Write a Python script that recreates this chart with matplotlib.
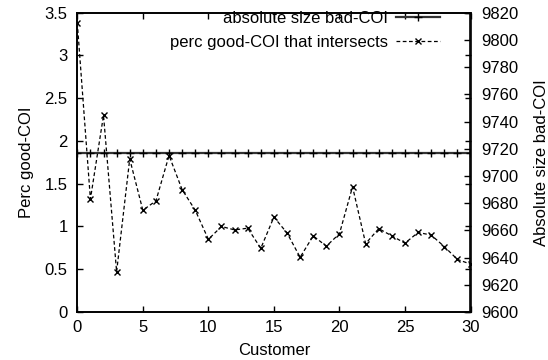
import matplotlib
matplotlib.use("Agg")
import matplotlib.pyplot as plt

plt.rcParams['font.family'] = ['Liberation Sans', 'DejaVu Sans']
plt.rcParams['font.size'] = 12

customers = list(range(31))
perc_good = [3.38, 1.32, 2.30, 0.47, 1.79, 1.19, 1.30, 1.83, 1.43, 1.19,
             0.85, 1.00, 0.96, 0.98, 0.745, 1.11, 0.925, 0.64, 0.89, 0.77,
             0.915, 1.465, 0.80, 0.975, 0.89, 0.805, 0.93, 0.90, 0.765, 0.615,
             0.56]
abs_bad = [9717, 9717, 9717, 9717, 9717, 9717, 9717, 9717, 9717, 9717,
           9717, 9717, 9717, 9717, 9717, 9717, 9717, 9717, 9717, 9717,
           9717, 9717, 9717, 9717, 9717, 9717, 9717, 9717, 9717, 9717,
           9717]

left_ticks = [0, 0.5, 1, 1.5, 2, 2.5, 3, 3.5]
left_ticklabels = ['0', '0.5', '1', '1.5', '2', '2.5', '3', '3.5']
right_ticks = list(range(9600, 9821, 20))
x_ticks = [0, 5, 10, 15, 20, 25, 30]

fig = plt.figure(figsize=(5.48, 3.6), dpi=100)
ax = fig.add_axes([77.3/548, 1-312/360, (470.5-77.3)/548, (312-12.7)/360])
ax2 = ax.twinx()

l1, = ax2.plot(customers, abs_bad, color='#333333', lw=1.6, ls='-',
               marker='+', ms=6, mew=1.0, mec='black')
l2, = ax.plot(customers, perc_good, color='black', lw=0.9, ls=(0, (3, 2)),
              marker='x', ms=5, mew=1.0)
ax.set_zorder(ax2.get_zorder() + 1)
ax.patch.set_visible(False)

ax.set_xlim(0, 30)
ax.set_ylim(0, 3.5)
ax2.set_ylim(9600, 9820)
ax.set_xticks(x_ticks)
ax.set_yticks(left_ticks)
ax.set_yticklabels(left_ticklabels)
ax2.set_yticks(right_ticks)

ax.tick_params(axis='both', direction='in', length=4, width=1,
               top=True, right=True, labelright=False)
ax.tick_params(axis='y', pad=7)
ax.tick_params(axis='x', pad=6)
ax2.tick_params(axis='y', direction='in', length=4, width=1, pad=8)

for a in (ax, ax2):
    for s in a.spines.values():
        s.set_linewidth(1.2)

ax.set_xlabel('Customer')
ax.set_ylabel('Perc good-COI')
ax2.set_ylabel('Absolute size bad-COI')
ax.xaxis.set_label_coords(0.5, -0.103)
ax.yaxis.set_label_coords(-0.11, 0.5)
ax2.yaxis.set_label_coords(1.162, 0.5)

leg = ax.legend([l1, l2], ['absolute size bad-COI', 'perc good-COI that intersects'],
                loc='upper right', bbox_to_anchor=(0.922, 1.006), frameon=False,
                markerfirst=False, handlelength=2.64, handletextpad=0.45,
                labelspacing=0.55, borderaxespad=0.0, borderpad=0.0, fontsize=12)

fig.savefig('out.png', dpi=100)
